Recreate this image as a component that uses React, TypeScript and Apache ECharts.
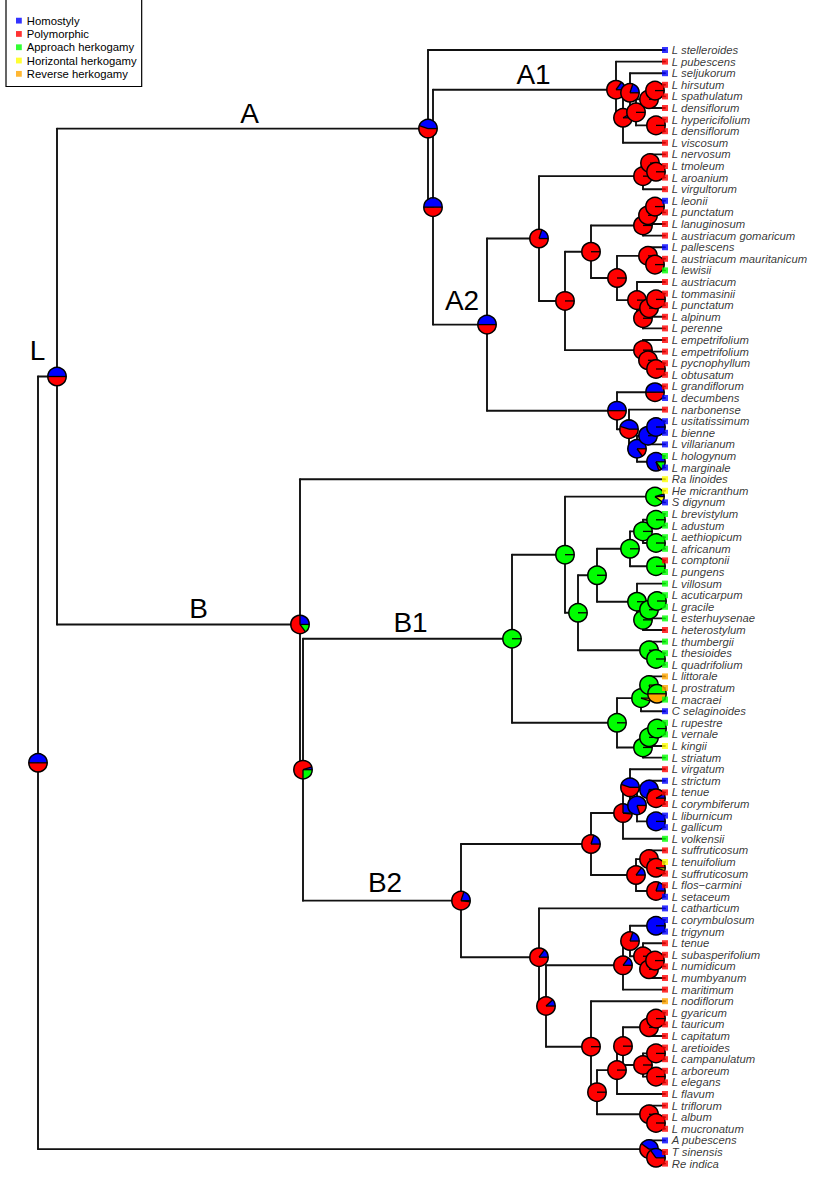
import React, { useEffect, useRef } from "react";
import * as echarts from "echarts";

// ---------- DATA ----------
const stateNames = ["Homostyly", "Polymorphic", "Approach herkogamy", "Horizontal herkogamy", "Reverse herkogamy"];
const stateColors = ["#0000FF", "#FF0000", "#00FF00", "#FFFF00", "#FFA500"];

const tipNames = [
  "L stelleroides", "L pubescens", "L seljukorum", "L hirsutum", "L spathulatum", "L densiflorum", "L hypericifolium", "L densiflorum", "L viscosum",
  "L nervosum", "L tmoleum", "L aroanium", "L virgultorum", "L leonii", "L punctatum", "L lanuginosum", "L austriacum gomaricum", "L pallescens", "L austriacum mauritanicum", "L lewisii",
  "L austriacum", "L tommasinii", "L punctatum", "L alpinum", "L perenne", "L empetrifolium", "L empetrifolium", "L pycnophyllum", "L obtusatum", "L grandiflorum",
  "L decumbens", "L narbonense", "L usitatissimum", "L bienne", "L villarianum", "L hologynum", "L marginale", "Ra linoides", "He micranthum", "S digynum",
  "L brevistylum", "L adustum", "L aethiopicum", "L africanum", "L comptonii", "L pungens", "L villosum", "L acuticarpum", "L gracile", "L esterhuysenae",
  "L heterostylum", "L thumbergii", "L thesioides", "L quadrifolium", "L littorale", "L prostratum", "L macraei", "C selaginoides", "L rupestre", "L vernale",
  "L kingii", "L striatum", "L virgatum", "L strictum", "L tenue", "L corymbiferum", "L liburnicum", "L gallicum", "L volkensii", "L suffruticosum",
  "L tenuifolium", "L suffruticosum", "L flos\u2212carmini", "L setaceum", "L catharticum", "L corymbulosum", "L trigynum", "L tenue", "L subasperifolium", "L numidicum",
  "L mumbyanum", "L maritimum", "L nodiflorum", "L gyaricum", "L tauricum", "L capitatum", "L aretioides", "L campanulatum", "L arboreum", "L elegans",
  "L flavum", "L triflorum", "L album", "L mucronatum", "A pubescens", "T sinensis", "Re indica",
];

// 0 Homostyly, 1 Polymorphic, 2 Approach, 3 Horizontal, 4 Reverse
const tipStates = [
  0, 1, 0, 1, 1, 1, 1, 1, 1,
  1, 1, 1, 1, 0, 1, 1, 1, 0, 1, 2,
  1, 1, 1, 1, 1, 1, 1, 1, 1, 1,
  0, 1, 0, 0, 0, 2, 0, 3, 3, 0,
  2, 2, 2, 2, 1, 2, 2, 2, 2, 2,
  1, 2, 2, 2, 4, 4, 2, 0, 2, 2,
  3, 2, 1, 0, 1, 1, 0, 0, 2, 1,
  3, 1, 1, 0, 0, 0, 0, 1, 1, 1,
  1, 1, 4, 1, 1, 1, 1, 1, 1, 1,
  1, 1, 1, 1, 0, 1, 1,
];

const tipDepth = 665;

const R = [0, 1, 0, 0, 0];
const G = [0, 0, 1, 0, 0];
const BL = [1, 0, 0, 0, 0];

// internal nodes: [id, depth, children (node ids or 1-based tip numbers), state probabilities]
const internalNodes: [string, number, (string | number)[], number[]][] = [
  ["root", 38, ["L", "og1"], [0.5, 0.5, 0, 0, 0]],
  ["L", 57, ["A", "B"], [0.5, 0.5, 0, 0, 0]],
  ["A", 428, [1, "AA"], [0.45, 0.55, 0, 0, 0]],
  ["AA", 433, ["P1", "A2"], [0.5, 0.5, 0, 0, 0]],
  ["P1", 616, [2, "P5"], [0.15, 0.85, 0, 0, 0]],
  ["P5", 623, ["P2", 9], [0.08, 0.92, 0, 0, 0]],
  ["P2", 630, [3, "P6"], [0.2, 0.8, 0, 0, 0]],
  ["P6", 636, ["P4", "P7"], R],
  ["P4", 649, ["P3", 6], R],
  ["P3", 655, [4, 5], R],
  ["P7", 656, [7, 8], R],
  ["A2", 487, ["A2u", "A2l"], [0.5, 0.5, 0, 0, 0]],
  ["A2u", 539, ["nv1", "n565"], [0.2, 0.8, 0, 0, 0]],
  ["nv1", 643, ["nv2", 13], R],
  ["nv2", 650, [10, "nv3"], R],
  ["nv3", 656, [11, 12], R],
  ["n565", 565, ["n591", "em1"], R],
  ["n591", 591, ["le1", "n617"], R],
  ["le1", 643, ["le2", 17], R],
  ["le2", 648, ["le3", 16], R],
  ["le3", 655, [14, 15], R],
  ["n617", 617, ["pa1", "au1"], R],
  ["pa1", 648, [18, "pa2"], R],
  ["pa2", 655, [19, 20], R],
  ["au1", 637, [21, "au2"], R],
  ["au2", 643, ["au3", 25], R],
  ["au3", 649, ["au4", 24], R],
  ["au4", 656, [22, 23], R],
  ["em1", 643, [26, "em2"], R],
  ["em2", 648, [27, "em3"], R],
  ["em3", 656, [28, 29], R],
  ["A2l", 617, ["gd", "n629"], [0.5, 0.5, 0, 0, 0]],
  ["gd", 655, [30, 31], [0.5, 0.5, 0, 0, 0]],
  ["n629", 629, [32, "n637"], [0.45, 0.55, 0, 0, 0]],
  ["n637", 637, ["us1", "hm"], [0.85, 0.15, 0, 0, 0]],
  ["us1", 648, ["us2", 35], BL],
  ["us2", 656, [33, 34], BL],
  ["hm", 656, [36, 37], [0.8, 0.05, 0.15, 0, 0]],
  ["B", 300, [38, "BB"], [0.25, 0.6, 0.15, 0, 0]],
  ["BB", 303, ["B1", "B2"], [0.05, 0.7, 0.25, 0, 0]],
  ["B1", 512, ["b565", "b617"], G],
  ["b565", 565, ["hs", "b578"], G],
  ["hs", 655, [39, 40], [0.05, 0, 0.85, 0.1, 0]],
  ["b578", 578, ["b597", "th1"], G],
  ["b597", 597, ["b630", "vi0"], G],
  ["b630", 630, ["b643", "cp"], G],
  ["b643", 643, ["ba", "bb"], G],
  ["ba", 656, [41, 42], G],
  ["bb", 656, [43, 44], G],
  ["cp", 656, [45, 46], G],
  ["vi0", 637, [47, "vi1"], G],
  ["vi1", 643, ["vi2", 51], G],
  ["vi2", 649, ["vi3", 50], G],
  ["vi3", 657, [48, 49], G],
  ["th1", 649, [52, "th2"], G],
  ["th2", 656, [53, 54], G],
  ["b617", 617, ["li1", "ru1"], G],
  ["li1", 641, ["li2", 58], [0, 0, 0.95, 0, 0.05]],
  ["li2", 649, [55, "li3"], [0, 0, 0.8, 0, 0.2]],
  ["li3", 657, [56, 57], [0, 0, 0.5, 0, 0.5]],
  ["ru1", 643, ["ru2", 62], G],
  ["ru2", 649, ["ru3", 61], G],
  ["ru3", 657, [59, 60], G],
  ["B2", 461, ["c591", "c539"], [0.2, 0.78, 0.02, 0, 0]],
  ["c591", 591, ["c623", "c636"], [0.2, 0.8, 0, 0, 0]],
  ["c623", 623, ["c630", 69], [0.25, 0.73, 0.02, 0, 0]],
  ["c630", 630, [63, "c637"], [0.45, 0.55, 0, 0, 0]],
  ["c637", 637, ["st", "lg"], [0.8, 0.2, 0, 0, 0]],
  ["st", 649, [64, "tc"], [0.75, 0.25, 0, 0, 0]],
  ["tc", 656, [65, 66], [0.08, 0.92, 0, 0, 0]],
  ["lg", 656, [67, 68], BL],
  ["c636", 636, ["sf1", "fs"], [0.15, 0.85, 0, 0, 0]],
  ["sf1", 649, [70, "sf2"], R],
  ["sf2", 656, [71, 72], [0, 0.95, 0, 0.05, 0]],
  ["fs", 656, [73, 74], [0.2, 0.8, 0, 0, 0]],
  ["c539", 539, [75, "c546"], [0.15, 0.85, 0, 0, 0]],
  ["c546", 546, ["d623", "d591"], [0.12, 0.88, 0, 0, 0]],
  ["d623", 623, ["d630", 82], [0.15, 0.85, 0, 0, 0]],
  ["d630", 630, ["ct", "tn"], [0.2, 0.8, 0, 0, 0]],
  ["ct", 656, [76, 77], BL],
  ["tn", 643, [78, "nu1"], R],
  ["nu1", 649, ["nu2", 81], R],
  ["nu2", 655, [79, 80], R],
  ["d591", 591, [83, "d597"], R],
  ["d597", 597, ["d617", "tr1"], R],
  ["d617", 617, ["d623b", 91], R],
  ["d623b", 623, ["gy1", "ar1"], R],
  ["gy1", 649, ["gy2", 86], R],
  ["gy2", 656, [84, 85], R],
  ["ar1", 643, ["ar2", "ar3"], R],
  ["ar2", 656, [87, 88], R],
  ["ar3", 656, [89, 90], R],
  ["tr1", 649, [92, "tr2"], R],
  ["tr2", 656, [93, 94], R],
  ["og1", 649, [95, "og2"], [0.4, 0.6, 0, 0, 0]],
  ["og2", 656, [96, 97], [0.35, 0.65, 0, 0, 0]],
];

// clade labels: [text, node id]
const cladeLabels: [string, string][] = [
  ["L", "L"], ["A", "A"], ["A1", "P1"], ["A2", "A2"], ["B", "B"], ["B1", "B1"], ["B2", "B2"],
];

// ---------- LAYOUT (pixels) ----------
const W = 817;
const H = 1184;
const firstTipPx = 50;
const tipStepPx = 11.6;
const pieR = 9.2;
const labelFont = "'Liberation Sans', Arial, Helvetica, sans-serif";
const cladeLabelOffset: Record<string, [number, number]> = {
  L: [-10, -26], A: [7, -15.5], A1: [9, -15.5], A2: [2, -24], B: [20, -16], B1: [3, -16.5], B2: [3, -18],
};

function buildTree() {
  const byId: Record<string, { depth: number; children: (string | number)[]; pie: number[] }> = {};
  const parent: Record<string, string> = {};
  internalNodes.forEach(([id, depth, children, pie]) => {
    byId[id] = { depth, children, pie };
    children.forEach((c) => {
      if (typeof c === "string") parent[c] = id;
    });
  });
  const yOf: Record<string, number> = {};
  const childY = (c: string | number): number => (typeof c === "number" ? c - 1 : nodeY(c));
  const childX = (c: string | number): number => (typeof c === "number" ? tipDepth : byId[c].depth);
  function nodeY(id: string): number {
    if (yOf[id] !== undefined) return yOf[id];
    const ys = byId[id].children.map(childY);
    const v = ys.reduce((a, b) => a + b, 0) / ys.length;
    yOf[id] = v;
    return v;
  }
  const edges: number[][] = [];
  const pies: number[][] = [];
  const visit = (id: string) => {
    const n = byId[id];
    const y = nodeY(id);
    pies.push([n.depth, y, ...n.pie]);
    const ys = n.children.map(childY);
    edges.push([n.depth, Math.min(...ys), n.depth, Math.max(...ys)]);
    n.children.forEach((c) => {
      edges.push([n.depth, childY(c), childX(c), childY(c)]);
    });
    n.children.forEach((c) => {
      if (typeof c === "string") visit(c);
    });
  };
  visit("root");
  const labels = cladeLabels.map(([text, id]) => {
    const p = byId[parent[id]];
    return { text, x: (p.depth + byId[id].depth) / 2, y: nodeY(id) };
  });
  return { edges, pies, labels };
}

export default function App() {
  const ref = useRef<HTMLDivElement>(null);
  useEffect(() => {
    if (!ref.current) return;
    const chart = echarts.init(ref.current, undefined, { renderer: "svg" });
    const { edges, pies, labels } = buildTree();
    const yMin = -firstTipPx / tipStepPx;
    const yMax = yMin + H / tipStepPx;

    const option: any = {
      animation: false,
      backgroundColor: "#ffffff",
      grid: { left: 0, right: 0, top: 0, bottom: 0 },
      xAxis: { type: "value", min: 0, max: W, show: false },
      yAxis: { type: "value", min: yMin, max: yMax, inverse: true, show: false },
      legend: {
        data: stateNames,
        orient: "vertical",
        left: 6,
        top: -4,
        icon: "rect",
        itemWidth: 5.8,
        itemHeight: 5.8,
        itemGap: 0,
        padding: [18, 5, 6, 10],
        borderColor: "#000",
        borderWidth: 1.2,
        backgroundColor: "#fff",
        selectedMode: false,
        textStyle: { fontSize: 11.3, fontFamily: labelFont, color: "#000", lineHeight: 13.3 },
      },
      series: [
        ...stateNames.map((name, k) => ({
          name,
          type: "scatter",
          data: [],
          itemStyle: { color: stateColors[k] },
        })),
        {
          type: "custom",
          coordinateSystem: "cartesian2d",
          silent: true,
          encode: { x: [0, 2], y: [1, 3] },
          data: edges,
          renderItem: (_p: any, api: any) => {
            const a = api.coord([api.value(0), api.value(1)]);
            const b = api.coord([api.value(2), api.value(3)]);
            return {
              type: "line",
              shape: { x1: a[0], y1: a[1], x2: b[0], y2: b[1] },
              style: { stroke: "#111", lineWidth: 1.9, lineCap: "round" },
            };
          },
        },
        {
          type: "custom",
          coordinateSystem: "cartesian2d",
          silent: true,
          encode: { x: 0, y: 1 },
          data: pies,
          renderItem: (_p: any, api: any) => {
            const c = api.coord([api.value(0), api.value(1)]);
            const probs = [2, 3, 4, 5, 6].map((k) => Number(api.value(k)) || 0);
            const tot = probs.reduce((s, v) => s + v, 0) || 1;
            const children: any[] = [];
            const bounds: number[] = [0];
            let acc = 0;
            probs.forEach((p, k) => {
              if (p <= 0) return;
              const a0 = (acc / tot) * Math.PI * 2;
              acc += p;
              const a1 = (acc / tot) * Math.PI * 2;
              children.push({
                type: "sector",
                shape: { cx: c[0], cy: c[1], r: pieR, r0: 0, startAngle: -a1, endAngle: -a0, clockwise: true },
                style: { fill: stateColors[k], stroke: stateColors[k], lineWidth: 0.3 },
              });
              bounds.push(acc / tot);
            });
            bounds.forEach((b) => {
              if (b > 0.999) return;
              const ang = b * Math.PI * 2;
              children.push({
                type: "line",
                shape: { x1: c[0], y1: c[1], x2: c[0] + pieR * Math.cos(ang), y2: c[1] - pieR * Math.sin(ang) },
                style: { stroke: "#000", lineWidth: 1.3 },
              });
            });
            children.push({
              type: "circle",
              shape: { cx: c[0], cy: c[1], r: pieR },
              style: { fill: "none", stroke: "#000", lineWidth: 1.5 },
            });
            return { type: "group", children };
          },
        },
        {
          type: "scatter",
          silent: true,
          symbol: "rect",
          symbolSize: 6,
          data: tipNames.map((name, i) => ({
            name,
            value: [tipDepth, i],
            itemStyle: { color: stateColors[tipStates[i]] },
          })),
          label: {
            show: true,
            position: "right",
            distance: 3.8,
            formatter: "{b}",
            fontStyle: "italic",
            fontSize: 11.3,
            fontFamily: labelFont,
            color: "#000",
          },
        },
        {
          type: "custom",
          coordinateSystem: "cartesian2d",
          silent: true,
          encode: { x: 0, y: 1 },
          data: labels.map((l) => [l.x, l.y]),
          renderItem: (p: any, api: any) => {
            const c = api.coord([api.value(0), api.value(1)]);
            const text = labels[p.dataIndex].text;
            const off = cladeLabelOffset[text] || [0, -16];
            return {
              type: "text",
              style: {
                text,
                x: c[0] + off[0],
                y: c[1] + off[1],
                align: "center",
                verticalAlign: "middle",
                fontSize: 28,
                fontFamily: labelFont,
                fill: "#000",
              },
            };
          },
        },
      ],
    };
    chart.setOption(option);
    return () => chart.dispose();
  }, []);
  return (
    <div
      ref={ref}
      style={{ position: "absolute", left: 0, top: 0, width: W, height: H, background: "#fff" }}
    />
  );
}
